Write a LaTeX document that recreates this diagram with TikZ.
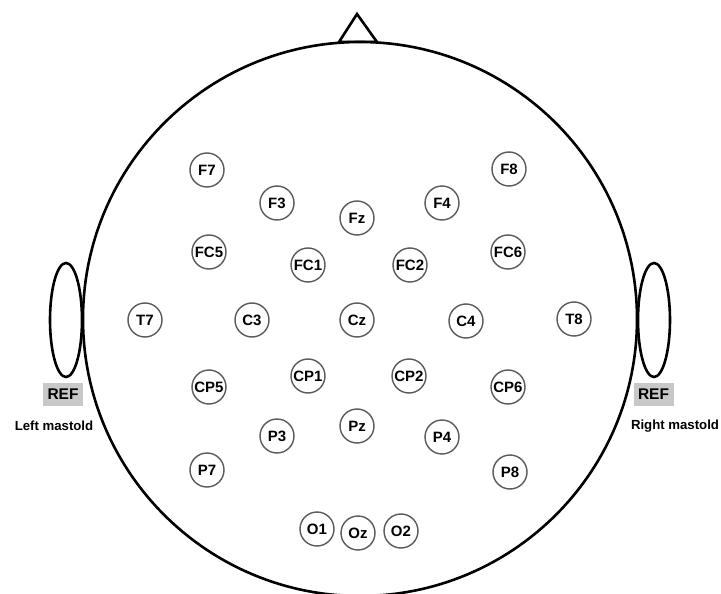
\documentclass[tikz,border=0pt]{standalone}
\usepackage{fontspec}
\setmainfont{Liberation Sans}
\definecolor{elecline}{HTML}{5A5A5A}
\definecolor{refgray}{HTML}{C8C8C8}
\tikzset{
  electrode/.style={circle, draw=elecline, line width=1.4pt, minimum size=34pt, inner sep=0pt, font=\fontsize{15}{15}\selectfont\bfseries},
  headline/.style={line width=2.6pt, black},
  refbox/.style={fill=refgray, minimum width=40pt, minimum height=23pt, inner sep=0pt, font=\fontsize{15.5}{15.5}\selectfont\bfseries},
  mastlabel/.style={font=\fontsize{13.2}{13.2}\selectfont\bfseries, inner sep=0pt}
}
\begin{document}
\begin{tikzpicture}[x=1pt,y=-1pt]
\useasboundingbox (0,0) rectangle (721,594);
\fill[white] (0,0) rectangle (721,594);
% nose
\draw[headline, line join=miter] (339,42) -- (357,14) -- (377,42) -- cycle;
% ears
\draw[headline] (66,320) ellipse [x radius=16, y radius=57];
\draw[headline] (654,320) ellipse [x radius=16, y radius=57];
% head
\draw[headline, fill=white] (360,319) circle [radius=277];
\draw[headline] (339,42) -- (377,42);
% reference boxes
\node[refbox] (refL) at (63,394.5) {REF};
\node[refbox] (refR) at (653.5,394.5) {REF};
\node[mastlabel] (lm) at (54,426) {Left mastold};
\node[mastlabel] (rm) at (675,426) {Right mastold};
% electrodes
\node[electrode] (F7) at (207,170) {F7};
\node[electrode] (F8) at (509,169) {F8};
\node[electrode] (F3) at (277,203) {F3};
\node[electrode] (F4) at (442,203) {F4};
\node[electrode] (Fz) at (357,218) {Fz};
\node[electrode] (FC5) at (209,252) {FC5};
\node[electrode] (FC6) at (508,252) {FC6};
\node[electrode] (FC1) at (308,265) {FC1};
\node[electrode] (FC2) at (410,265) {FC2};
\node[electrode] (T7) at (145,320) {T7};
\node[electrode] (C3) at (252,320) {C3};
\node[electrode] (Cz) at (357,320) {Cz};
\node[electrode] (C4) at (466,321) {C4};
\node[electrode] (T8) at (574,319) {T8};
\node[electrode] (CP1) at (308,376) {CP1};
\node[electrode] (CP2) at (409,376) {CP2};
\node[electrode] (CP5) at (209,387) {CP5};
\node[electrode] (CP6) at (508,387) {CP6};
\node[electrode] (Pz) at (357,426) {Pz};
\node[electrode] (P3) at (277,436) {P3};
\node[electrode] (P4) at (442,437) {P4};
\node[electrode] (P7) at (207,470) {P7};
\node[electrode] (P8) at (510,472) {P8};
\node[electrode] (O1) at (317,529) {O1};
\node[electrode] (Oz) at (358,533) {Oz};
\node[electrode] (O2) at (401,531) {O2};
\end{tikzpicture}
\end{document}
